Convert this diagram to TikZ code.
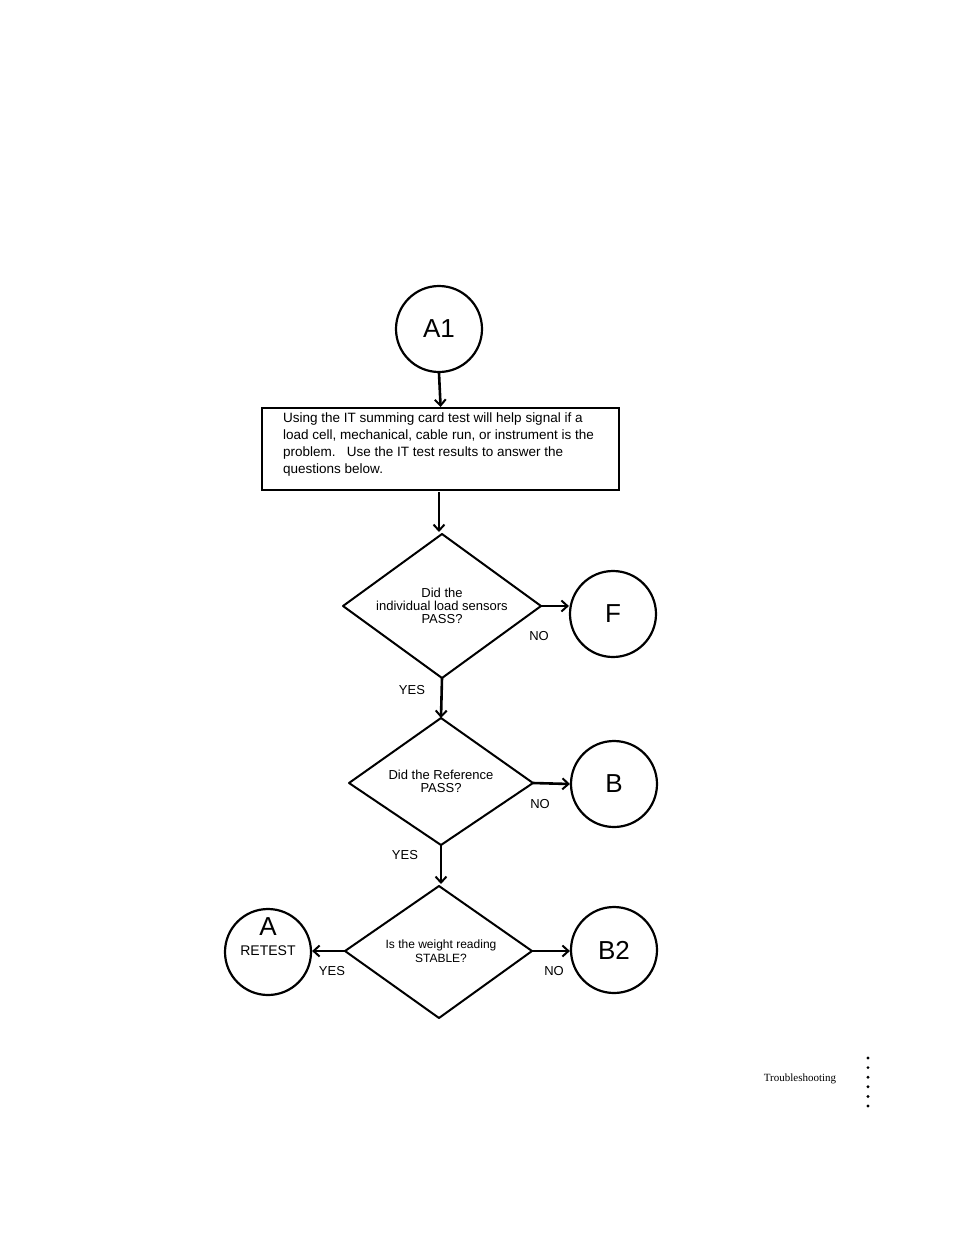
\documentclass[tikz,border=0pt]{standalone}
\usepackage{fontspec}
\setmainfont{Liberation Sans}
\newfontfamily\serifx{Liberation Serif}
\usetikzlibrary{arrows.meta}
\begin{document}
\begin{tikzpicture}[x=1pt,y=-1pt,
  circ/.style={draw,circle,line width=2.2pt,minimum size=86pt,inner sep=0pt,font=\fontsize{26}{26}\selectfont},
  arr/.style={line width=2.6pt,-{Straight Barb[length=6pt,width=11pt,line width=2pt]}},
  dia/.style={line width=2pt,line join=round},
  lbl/.style={font=\fontsize{13}{13}\selectfont}]
\useasboundingbox (0,0) rectangle (954,1235);
\node[circ] (a1) at (439,329) {A1};
\node[draw,line width=2.2pt,minimum width=357pt,minimum height=82pt,anchor=north west,inner sep=0pt] (box) at (261,407) {};
\node[anchor=north west,align=left,font=\fontsize{13.5}{16.8}\selectfont,inner sep=0pt] at (283,413)
 {Using the IT summing card test will help signal if a\\load cell, mechanical, cable run, or instrument is the\\problem.\ \ \ Use the IT test results to answer the\\questions below.};
\draw[arr] (a1.south) -- (box.north);
\coordinate (bb) at (439,492);
% diamond 1
\coordinate (d1t) at (442,534); \coordinate (d1l) at (343,606);
\coordinate (d1r) at (541,606); \coordinate (d1b) at (442,678);
\draw[dia] (d1t)--(d1r)--(d1b)--(d1l)--cycle;
\node[align=center,lbl,inner sep=0pt] (t1) at (442,606) {Did the\\individual load sensors\\PASS?};
\draw[arr] (bb) -- (439,532);
\node[circ] (f) at (613,614) {F};
\draw[arr] (d1r) -- (f.west |- d1r);
\node[lbl] (n1) at (539,636) {NO};
% diamond 2
\coordinate (d2t) at (441,718); \coordinate (d2l) at (349,783);
\coordinate (d2r) at (533,783); \coordinate (d2b) at (441,845);
\draw[dia] (d2t)--(d2r)--(d2b)--(d2l)--cycle;
\node[align=center,lbl,inner sep=0pt] (t2) at (441,781) {Did the Reference\\PASS?};
\draw[arr] (d1b) -- (d2t);
\node[lbl] (y1) at (412,690) {YES};
\node[circ] (b) at (614,784) {B};
\draw[arr] (d2r) -- (b.west);
\node[lbl] (n2) at (540,804) {NO};
% diamond 3
\coordinate (d3t) at (439,886); \coordinate (d3l) at (345,951);
\coordinate (d3r) at (532,951); \coordinate (d3b) at (439,1018);
\draw[dia] (d3t)--(d3r)--(d3b)--(d3l)--cycle;
\node[align=center,font=\fontsize{12}{14.5}\selectfont,inner sep=0pt] (t3) at (441,951) {Is the weight reading\\STABLE?};
\draw[arr] (d2b) -- (441,884);
\node[lbl] (y2) at (405,855) {YES};
\node[circ] (a) at (268,952) {};
\node[font=\fontsize{26}{26}\selectfont] at (268,927) {A};
\node[font=\fontsize{14}{14}\selectfont] at (268,951) {RETEST};
\draw[arr] (d3l) -- (a.east |- d3l);
\node[lbl] (y3) at (332,971) {YES};
\node[circ] (b2) at (614,950) {B2};
\draw[arr] (d3r) -- (b2.west |- d3r);
\node[lbl] (n3) at (554,971) {NO};
\node[font=\serifx\fontsize{11}{11}\selectfont] (ts) at (800,1079) {Troubleshooting};
\foreach \i in {0,...,5} \fill (868,1058+9.6*\i) circle (1.6pt);
\end{tikzpicture}
\end{document}
